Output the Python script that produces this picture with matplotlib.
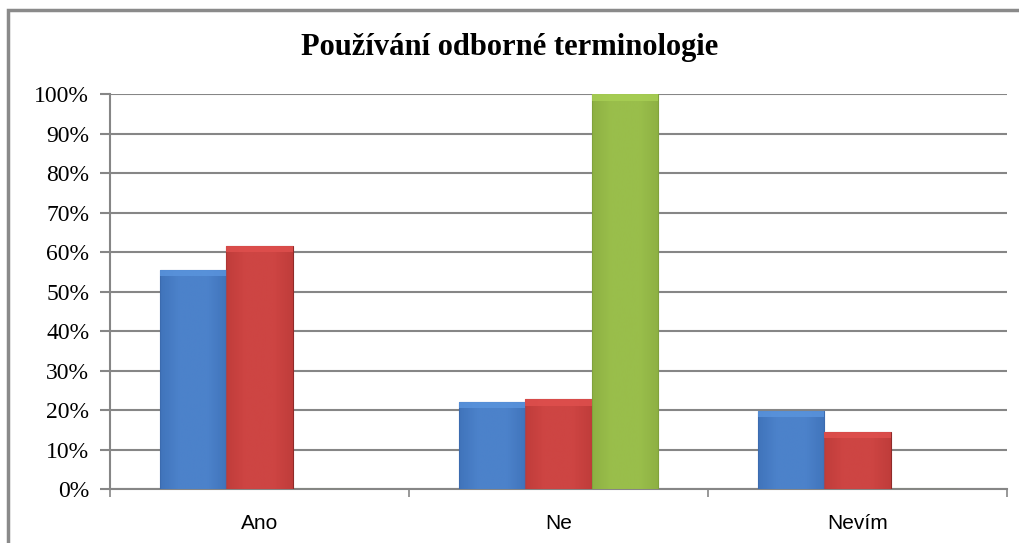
import numpy as np
import matplotlib.pyplot as plt
from matplotlib.patches import Rectangle
from matplotlib.colors import LinearSegmentedColormap

# data
categories = ["Ano", "Ne", "Nevím"]
series_blue = [55.6, 22.1, 19.8]
series_red = [61.6, 22.7, 14.5]
series_green = [0, 100, 0]
yticks = [0, 10, 20, 30, 40, 50, 60, 70, 80, 90, 100]

colors = [
    ("#5b95de", "#3a6cb3", "#2f5a98"),
    ("#e0504e", "#b83836", "#8f2a29"),
    ("#a9d055", "#87a93f", "#6b8a30"),
]

fig = plt.figure(figsize=(10.19, 5.43), dpi=100)
ax = fig.add_axes([110 / 1019, 1 - 489 / 543, 897 / 1019, (489 - 94.3) / 543])

# outer chart frame (only top and left visible)
fig.patches.append(Rectangle((8 / 1019, -0.1), 1.2, 1 - 10 / 543 + 0.1,
                             transform=fig.transFigure, fill=False,
                             edgecolor="#8a8a8a", linewidth=2.5, zorder=0))

x = np.arange(len(categories))
w = 0.2226
all_series = [series_blue, series_red, series_green]
for i, vals in enumerate(all_series):
    light, mid, dark = colors[i]
    bars = ax.bar(x + (i - 1) * w, vals, width=w, color=mid,
                  edgecolor=dark, linewidth=0.8, zorder=3)
    cmap = LinearSegmentedColormap.from_list("g%d" % i, [dark, mid, light, light, mid, dark])
    grad = np.linspace(0, 1, 64).reshape(1, -1)
    for b in bars:
        if b.get_height() <= 0:
            continue
        x0, y0 = b.get_x(), b.get_y()
        x1, y1 = x0 + b.get_width(), y0 + b.get_height()
        im = ax.imshow(grad, extent=(x0, x1, y0, y1), aspect="auto",
                       cmap=cmap, vmin=-0.6, vmax=1.6, zorder=3.5,
                       interpolation="bicubic", alpha=0.55)
        im.set_clip_path(b)
        # top bevel highlight
        top = Rectangle((x0, y1 - 1.6), b.get_width(), 1.6, facecolor=light,
                        edgecolor="none", alpha=0.8, zorder=3.6)
        ax.add_patch(top)

ax.set_xlim(-0.5, 2.5)
ax.set_ylim(0, 100)
ax.set_yticks(yticks)
ax.set_yticklabels(["%d%%" % v for v in yticks],
                   fontfamily="Liberation Serif", fontsize=17)
ax.set_xticks(x)
ax.set_xticklabels(categories, fontfamily="Liberation Sans", fontsize=15)
ax.set_xticks([-0.5, 0.5, 1.5, 2.5], minor=True)

ax.grid(axis="y", color="#868686", linewidth=1.5, zorder=1)
ax.set_axisbelow(True)
for s in ["top", "right"]:
    ax.spines[s].set_visible(False)
for s in ["left", "bottom"]:
    ax.spines[s].set_color("#868686")
    ax.spines[s].set_linewidth(1.5)

ax.tick_params(axis="y", direction="out", length=7, width=1.5, color="#868686", pad=8)
ax.tick_params(axis="x", which="major", length=0, pad=18)
ax.tick_params(axis="x", which="minor", direction="out", length=6, width=1.2, color="#868686")

fig.text(0.5, 1 - 48 / 543, "Používání odborné terminologie", ha="center", va="center",
         fontfamily="Liberation Serif", fontweight="bold", fontsize=22)

plt.savefig("out.png", dpi=100)
